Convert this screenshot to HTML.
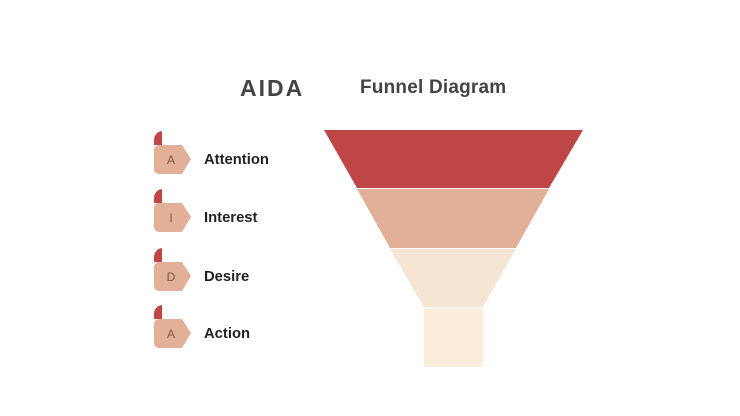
<!DOCTYPE html>
<html><head><style>
body{margin:0;width:740px;height:416px;background:#fff;overflow:hidden}
svg{display:block}
text{font-family:"Liberation Sans",sans-serif}
</style></head><body>
<svg width="740" height="416" viewBox="0 0 740 416">
<text x="240" y="96" font-size="23" font-weight="bold" fill="#444" letter-spacing="2">AIDA</text>
<text x="360" y="93" font-size="19" font-weight="bold" fill="#444" letter-spacing="0.2">Funnel Diagram</text>
<g>
<path d="M162,131 v14 h-8 v-5 a9,9 0 0 1 8,-9z" fill="#BE4646"/>
<path d="M159,145 H182 L191,159 L182,174 H159 a5,5 0 0 1 -5,-5 V150 a5,5 0 0 1 5,-5z" fill="#E2AF98"/>
<text x="171" y="164" font-size="12" fill="#7a5a4a" text-anchor="middle">A</text>
<text x="204" y="164" font-size="14.8" font-weight="bold" fill="#222">Attention</text>
</g>
<g transform="translate(0,58)">
<path d="M162,131 v14 h-8 v-5 a9,9 0 0 1 8,-9z" fill="#BE4646"/>
<path d="M159,145 H182 L191,159 L182,174 H159 a5,5 0 0 1 -5,-5 V150 a5,5 0 0 1 5,-5z" fill="#E2AF98"/>
<text x="171" y="164" font-size="12" fill="#7a5a4a" text-anchor="middle">I</text>
<text x="204" y="164" font-size="14.8" font-weight="bold" fill="#222">Interest</text>
</g>
<g transform="translate(0,117)">
<path d="M162,131 v14 h-8 v-5 a9,9 0 0 1 8,-9z" fill="#BE4646"/>
<path d="M159,145 H182 L191,159 L182,174 H159 a5,5 0 0 1 -5,-5 V150 a5,5 0 0 1 5,-5z" fill="#E2AF98"/>
<text x="171" y="164" font-size="12" fill="#7a5a4a" text-anchor="middle">D</text>
<text x="204" y="164" font-size="14.8" font-weight="bold" fill="#222">Desire</text>
</g>
<g transform="translate(0,174)">
<path d="M162,131 v14 h-8 v-5 a9,9 0 0 1 8,-9z" fill="#BE4646"/>
<path d="M159,145 H182 L191,159 L182,174 H159 a5,5 0 0 1 -5,-5 V150 a5,5 0 0 1 5,-5z" fill="#E2AF98"/>
<text x="171" y="164" font-size="12" fill="#7a5a4a" text-anchor="middle">A</text>
<text x="204" y="164" font-size="14.8" font-weight="bold" fill="#222">Action</text>
</g>
<polygon points="324,130 583,130 549,188 357,188" fill="#BE4646"/>
<polygon points="357,189 549,189 516,248 390,248" fill="#E2AF98"/>
<polygon points="390,249 516,249 483,307 424,307" fill="#F5E6D3"/>
<rect x="424" y="308" width="59" height="59" fill="#FAEEDA"/>
</svg>
</body></html>
